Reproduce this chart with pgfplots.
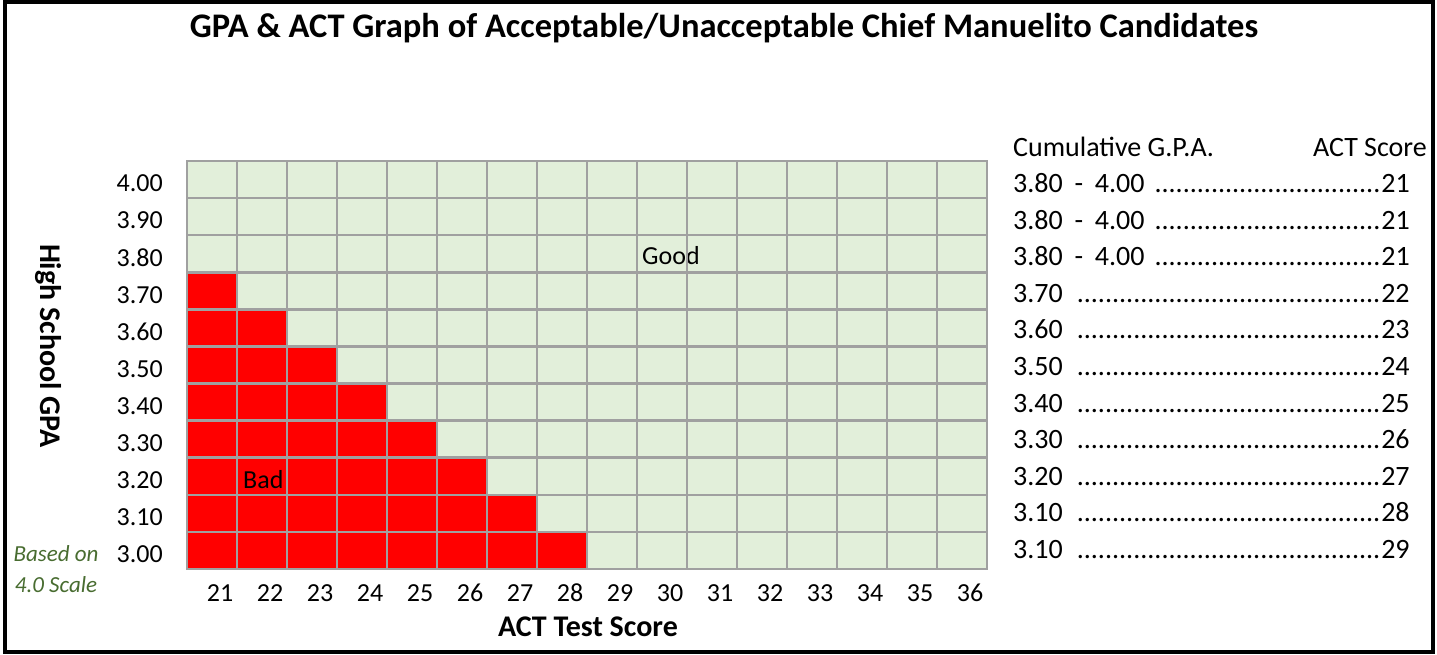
\documentclass[border=0pt]{standalone}
\usepackage{fontspec}
\setmainfont{Carlito}
\usepackage{pgfplots}
\pgfplotsset{compat=1.18}
\usepackage{pgfplotstable}
\definecolor{cellgreen}{RGB}{226,239,218}
\definecolor{cellred}{RGB}{255,0,0}
\definecolor{gridgray}{RGB}{160,160,160}
\definecolor{notegreen}{RGB}{72,108,48}

% x = ACT score, y = GPA, c = 1 for unacceptable (red), 0 for acceptable
\pgfplotstableread{
x y c
21 3.0 1
22 3.0 1
23 3.0 1
24 3.0 1
25 3.0 1
26 3.0 1
27 3.0 1
28 3.0 1
29 3.0 0
30 3.0 0
31 3.0 0
32 3.0 0
33 3.0 0
34 3.0 0
35 3.0 0
36 3.0 0
21 3.1 1
22 3.1 1
23 3.1 1
24 3.1 1
25 3.1 1
26 3.1 1
27 3.1 1
28 3.1 0
29 3.1 0
30 3.1 0
31 3.1 0
32 3.1 0
33 3.1 0
34 3.1 0
35 3.1 0
36 3.1 0
21 3.2 1
22 3.2 1
23 3.2 1
24 3.2 1
25 3.2 1
26 3.2 1
27 3.2 0
28 3.2 0
29 3.2 0
30 3.2 0
31 3.2 0
32 3.2 0
33 3.2 0
34 3.2 0
35 3.2 0
36 3.2 0
21 3.3 1
22 3.3 1
23 3.3 1
24 3.3 1
25 3.3 1
26 3.3 0
27 3.3 0
28 3.3 0
29 3.3 0
30 3.3 0
31 3.3 0
32 3.3 0
33 3.3 0
34 3.3 0
35 3.3 0
36 3.3 0
21 3.4 1
22 3.4 1
23 3.4 1
24 3.4 1
25 3.4 0
26 3.4 0
27 3.4 0
28 3.4 0
29 3.4 0
30 3.4 0
31 3.4 0
32 3.4 0
33 3.4 0
34 3.4 0
35 3.4 0
36 3.4 0
21 3.5 1
22 3.5 1
23 3.5 1
24 3.5 0
25 3.5 0
26 3.5 0
27 3.5 0
28 3.5 0
29 3.5 0
30 3.5 0
31 3.5 0
32 3.5 0
33 3.5 0
34 3.5 0
35 3.5 0
36 3.5 0
21 3.6 1
22 3.6 1
23 3.6 0
24 3.6 0
25 3.6 0
26 3.6 0
27 3.6 0
28 3.6 0
29 3.6 0
30 3.6 0
31 3.6 0
32 3.6 0
33 3.6 0
34 3.6 0
35 3.6 0
36 3.6 0
21 3.7 1
22 3.7 0
23 3.7 0
24 3.7 0
25 3.7 0
26 3.7 0
27 3.7 0
28 3.7 0
29 3.7 0
30 3.7 0
31 3.7 0
32 3.7 0
33 3.7 0
34 3.7 0
35 3.7 0
36 3.7 0
21 3.8 0
22 3.8 0
23 3.8 0
24 3.8 0
25 3.8 0
26 3.8 0
27 3.8 0
28 3.8 0
29 3.8 0
30 3.8 0
31 3.8 0
32 3.8 0
33 3.8 0
34 3.8 0
35 3.8 0
36 3.8 0
21 3.9 0
22 3.9 0
23 3.9 0
24 3.9 0
25 3.9 0
26 3.9 0
27 3.9 0
28 3.9 0
29 3.9 0
30 3.9 0
31 3.9 0
32 3.9 0
33 3.9 0
34 3.9 0
35 3.9 0
36 3.9 0
21 4.0 0
22 4.0 0
23 4.0 0
24 4.0 0
25 4.0 0
26 4.0 0
27 4.0 0
28 4.0 0
29 4.0 0
30 4.0 0
31 4.0 0
32 4.0 0
33 4.0 0
34 4.0 0
35 4.0 0
36 4.0 0
}\gridtable

\newcommand{\dotrow}[2]{\makebox[397pt][l]{#1\hspace{0.35em}\leaders\hbox{.}\hfill #2}}
\newcommand{\range}{3.80\hspace{0.42em}-\hspace{0.42em}4.00}

\begin{document}
\begin{tikzpicture}[x=1pt,y=1pt]
\useasboundingbox (0,0) rectangle (1437,654);
\draw[line width=4pt] (5,2) rectangle (1432.5,651.5);

\node[anchor=base, inner sep=0, font=\fontsize{34.5}{40}\selectfont\bfseries]
  at (724,616) {GPA \& ACT Graph of Acceptable/Unacceptable Chief Manuelito Candidates};

\begin{axis}[
  at={(187pt,85pt)}, anchor=south west,
  scale only axis, width=800pt, height=408pt,
  xmin=20.5, xmax=36.5, ymin=2.95, ymax=4.05,
  xtick={21,22,...,36},
  ytick={3,3.1,3.2,3.3,3.4,3.5,3.6,3.7,3.8,3.9,4},
  minor xtick={20.5,21.5,22.5,23.5,24.5,25.5,26.5,27.5,28.5,29.5,30.5,31.5,32.5,33.5,34.5,35.5,36.5},
  minor ytick={2.95,3.05,3.15,3.25,3.35,3.45,3.55,3.65,3.75,3.85,3.95,4.05},
  grid=minor,
  minor grid style={gridgray, line width=2.5pt},
  major tick length=0pt, minor tick length=0pt,
  axis line style={gridgray, line width=2.5pt},
  axis on top,
  axis background/.style={fill=cellgreen},
  /pgf/number format/assume math mode=true,
  tick label style={font=\fontsize{26}{30}\selectfont},
  yticklabel style={/pgf/number format/.cd, fixed, fixed zerofill, precision=2, /tikz/.cd, anchor=east, inner sep=0pt, xshift=-24pt, yshift=-4pt},
  xticklabel style={anchor=north, inner sep=0pt, yshift=-15pt, xshift=8pt},
  colormap={rg}{rgb255(0)=(226,239,218) rgb255(1)=(255,0,0)},
  point meta min=0, point meta max=1,
]
\addplot[matrix plot*, mesh/cols=16, point meta=explicit] table[x=x, y=y, meta=c] {\gridtable};
\node[anchor=base west, inner sep=0, font=\fontsize{26}{30}\selectfont] at (axis cs:29.6,3.77) {Good};
\node[anchor=base west, inner sep=0, font=\fontsize{26}{30}\selectfont] at (axis cs:21.62,3.166) {Bad};
\end{axis}

\node[anchor=base, inner sep=0, font=\fontsize{30}{36}\selectfont\bfseries] at (588,18) {ACT Test Score};
\node[rotate=-90, anchor=base, inner sep=0, font=\fontsize{30}{36}\selectfont\bfseries] at (40,308) {High School GPA};

\node[anchor=base, inner sep=0, font=\fontsize{23}{28}\selectfont\itshape, text=notegreen] at (56,93) {Based on};
\node[anchor=base, inner sep=0, font=\fontsize{23}{28}\selectfont\itshape, text=notegreen] at (56,62) {4.0 Scale};

\begin{scope}[every node/.style={inner sep=0, font=\fontsize{28}{32}\selectfont}]
\node[anchor=base west] at (1013,497) {Cumulative G.P.A.};
\node[anchor=base east] at (1427,497) {ACT Score};
\node[anchor=base west] at (1013,461.5) {\dotrow{\range}{21}};
\node[anchor=base west] at (1013,424.9) {\dotrow{\range}{21}};
\node[anchor=base west] at (1013,388.3) {\dotrow{\range}{21}};
\node[anchor=base west] at (1013,351.7) {\dotrow{3.70}{22}};
\node[anchor=base west] at (1013,315.1) {\dotrow{3.60}{23}};
\node[anchor=base west] at (1013,278.5) {\dotrow{3.50}{24}};
\node[anchor=base west] at (1013,241.9) {\dotrow{3.40}{25}};
\node[anchor=base west] at (1013,205.3) {\dotrow{3.30}{26}};
\node[anchor=base west] at (1013,168.7) {\dotrow{3.20}{27}};
\node[anchor=base west] at (1013,132.1) {\dotrow{3.10}{28}};
\node[anchor=base west] at (1013,95.5) {\dotrow{3.10}{29}};
\end{scope}
\end{tikzpicture}
\end{document}
